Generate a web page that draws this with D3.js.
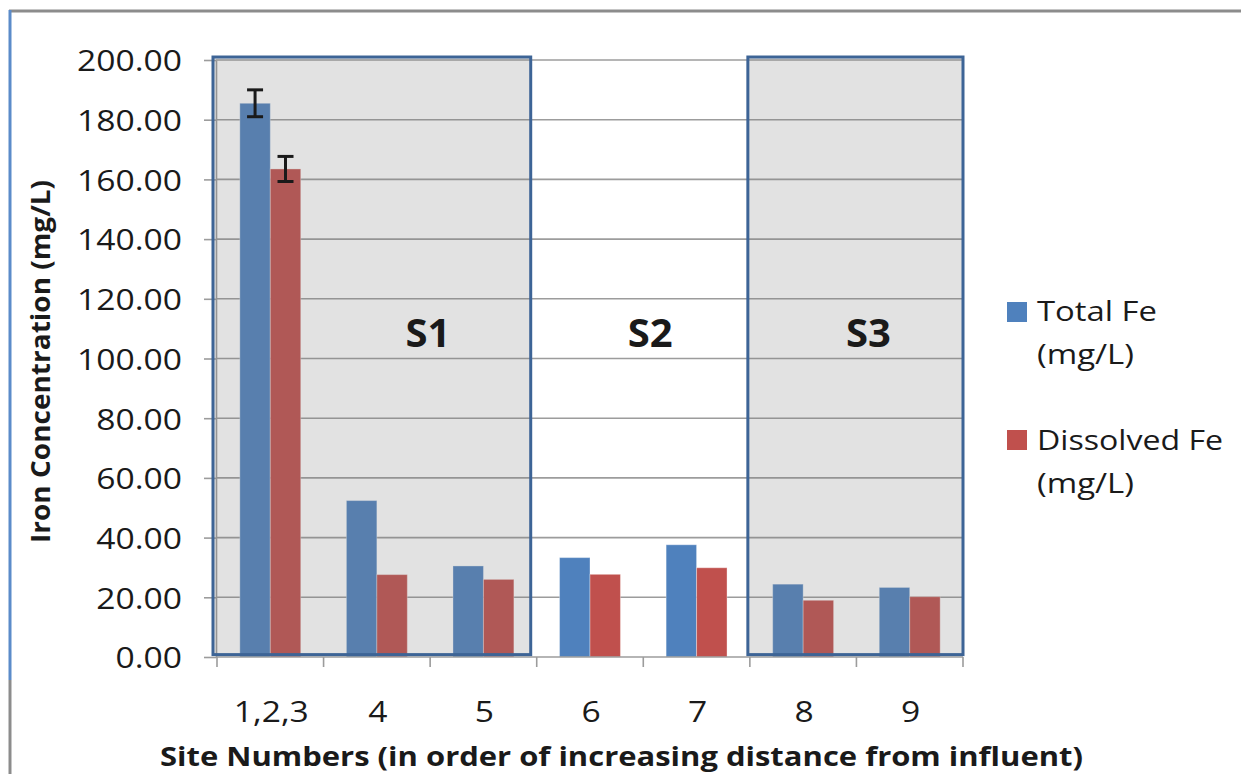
<!DOCTYPE html>
<html>
<head>
<meta charset="utf-8">
<script src="https://cdn.jsdelivr.net/npm/d3@7"></script>
<style>
  html, body { margin: 0; padding: 0; background: #fff; }
  svg { display: block; }
  text { font-family: "Open Sans", "Liberation Sans", sans-serif; fill: #1a1a1a; }
</style>
</head>
<body>
<svg id="chart" width="1241" height="774"></svg>
<script>
// ---------------- data ----------------
const categories = ["1,2,3", "4", "5", "6", "7", "8", "9"];
const seriesNames = ["Total Fe (mg/L)", "Dissolved Fe (mg/L)"];
const totalFe = [185.5, 52.4, 30.5, 33.3, 37.6, 24.4, 23.3];
const dissolvedFe = [163.5, 27.6, 26.0, 27.7, 29.9, 19.0, 20.2];
const totalFeErr = [4.5, null, null, null, null, null, null];
const dissolvedFeErr = [4.2, null, null, null, null, null, null];
const yTicks = [0, 20, 40, 60, 80, 100, 120, 140, 160, 180, 200];
const sectionLabels = ["S1", "S2", "S3"];
const sectionFirst = ["1,2,3", "6", "8"];
const sectionLast = ["5", "7", "9"];
const sectionShaded = [true, false, true];
const xTitle = "Site Numbers (in order of increasing distance from influent)";
const yTitle = "Iron Concentration (mg/L)";
const colors = ["#4f81bd", "#c0504d"];

// ---------------- layout ----------------
const svg = d3.select("#chart");
const plotL = 217, plotR = 963, plotT = 60, plotB = 657;

const x = d3.scaleBand().domain(categories).range([plotL, plotR]).paddingInner(0).paddingOuter(0);
const x1 = d3.scaleBand().domain(seriesNames).range([0, x.bandwidth()]).paddingInner(0).paddingOuter(0.75);
const y = d3.scaleLinear().domain([0, 200]).range([plotB, plotT]);

// outer frame (screenshot border)
svg.append("line").attr("x1", 9).attr("x2", 1241).attr("y1", 11).attr("y2", 11)
  .attr("stroke", "#8c8c8c").attr("stroke-width", 3);
svg.append("line").attr("x1", 10).attr("x2", 10).attr("y1", 10).attr("y2", 680)
  .attr("stroke", "#5b8bc9").attr("stroke-width", 3);
svg.append("line").attr("x1", 10).attr("x2", 10).attr("y1", 680).attr("y2", 774)
  .attr("stroke", "#8c8c8c").attr("stroke-width", 3);

// gridlines
svg.append("g").selectAll("line").data(yTicks.filter(d => d > 0)).join("line")
  .attr("x1", plotL - 1).attr("x2", plotR)
  .attr("y1", d => y(d)).attr("y2", d => y(d))
  .attr("stroke", "#9c9c9c").attr("stroke-width", 1.6);

// y axis
const yAxis = svg.append("g").attr("transform", `translate(${plotL - 1},0)`)
  .call(d3.axisLeft(y).tickValues(yTicks).tickFormat(d => d.toFixed(2)).tickSize(12).tickSizeOuter(0).tickPadding(22));
yAxis.select(".domain").attr("stroke", "#9c9c9c").attr("stroke-width", 1.6);
yAxis.selectAll(".tick line").attr("stroke", "#9c9c9c").attr("stroke-width", 1.6);
yAxis.selectAll(".tick text")
  .attr("dy", null).attr("y", 10.8)
  .style("font-family", '"Open Sans", sans-serif').style("font-size", "30px").attr("fill", "#1a1a1a");

// bars
const rows = categories.map((c, i) => ({ c, vals: [totalFe[i], dissolvedFe[i]], errs: [totalFeErr[i], dissolvedFeErr[i]] }));
const groups = svg.append("g").selectAll("g").data(rows).join("g")
  .attr("transform", d => `translate(${x(d.c)},0)`);
groups.selectAll("rect").data(d => d.vals.map((v, k) => ({ v, k }))).join("rect")
  .attr("x", d => x1(seriesNames[d.k]))
  .attr("width", x1.bandwidth())
  .attr("y", d => y(d.v))
  .attr("height", d => y(0) - y(d.v))
  .attr("fill", d => colors[d.k])
  .attr("stroke", "rgba(255,255,255,0.35)").attr("stroke-width", 1);

// x axis line and ticks at category boundaries
svg.append("line").attr("x1", plotL - 1).attr("x2", plotR).attr("y1", plotB).attr("y2", plotB)
  .attr("stroke", "#9c9c9c").attr("stroke-width", 1.6);
const bounds = categories.map(c => x(c)).concat([x(categories[categories.length - 1]) + x.bandwidth()]);
svg.append("g").selectAll("line").data(bounds).join("line")
  .attr("x1", d => d).attr("x2", d => d).attr("y1", plotB).attr("y2", plotB + 10)
  .attr("stroke", "#9c9c9c").attr("stroke-width", 1.6);

// shaded section boxes (semi-transparent over the bars)
const sections = sectionLabels.map((s, i) => ({
  label: s, x0: x(sectionFirst[i]), x1: x(sectionLast[i]) + x.bandwidth(), shaded: sectionShaded[i]
}));
svg.append("g").selectAll("rect").data(sections.filter(d => d.shaded)).join("rect")
  .attr("x", (d, i) => d.x0 + (i === 0 ? -4 : -2))
  .attr("width", (d, i) => (d.x1 - d.x0) + (i === 0 ? -2 : 2))
  .attr("y", y(201)).attr("height", y(0.8) - y(201))
  .attr("fill", "rgb(120,120,120)").attr("fill-opacity", 0.215)
  .attr("stroke", "#3d6496").attr("stroke-width", 3);

// section labels
svg.append("g").selectAll("text").data(sections).join("text")
  .attr("x", (d, i) => (d.x0 + d.x1) / 2 + [51, 7, 12][i])
  .attr("y", 347)
  .attr("text-anchor", "middle")
  .style("font-size", "40px").style("font-weight", "bold")
  .text(d => d.label);

// error bars
const errs = [];
rows.forEach(r => r.vals.forEach((v, k) => { if (r.errs[k] != null) errs.push({ c: r.c, k, v, e: r.errs[k] }); }));
const eg = svg.append("g").attr("stroke", "#1a1a1a").attr("stroke-width", 3);
errs.forEach(d => {
  const cx = x(d.c) + x1(seriesNames[d.k]) + x1.bandwidth() / 2;
  eg.append("line").attr("x1", cx).attr("x2", cx).attr("y1", y(d.v + d.e)).attr("y2", y(d.v - d.e));
  eg.append("line").attr("x1", cx - 8).attr("x2", cx + 8).attr("y1", y(d.v + d.e)).attr("y2", y(d.v + d.e));
  eg.append("line").attr("x1", cx - 8).attr("x2", cx + 8).attr("y1", y(d.v - d.e)).attr("y2", y(d.v - d.e));
});

// x tick labels
svg.append("g").attr("class", "xlabels").selectAll("text").data(categories).join("text")
  .attr("x", d => x(d) + x.bandwidth() / 2 + 1)
  .attr("y", 722)
  .attr("text-anchor", "middle")
  .style("font-size", "30px")
  .text(d => d);

// axis titles
svg.append("text").attr("x", 621.5).attr("y", 766).attr("text-anchor", "middle")
  .style("font-size", "27.5px").style("font-weight", "bold")
  .attr("textLength", 923).attr("lengthAdjust", "spacingAndGlyphs")
  .text(xTitle);
svg.append("text").attr("transform", "translate(50,361.5) rotate(-90)").attr("text-anchor", "middle")
  .style("font-size", "27.5px").style("font-weight", "bold")
  .attr("textLength", 363).attr("lengthAdjust", "spacingAndGlyphs")
  .text(yTitle);

// legend
const legendRows = [
  { color: colors[0], lines: ["Total Fe", "(mg/L)"], sqY: 302, base: 321, widths: [120, 97] },
  { color: colors[1], lines: ["Dissolved Fe", "(mg/L)"], sqY: 430, base: 450, widths: [186, 97] }
];
const lg = svg.append("g");
legendRows.forEach(r => {
  lg.append("rect").attr("x", 1007).attr("y", r.sqY).attr("width", 20).attr("height", 20).attr("fill", r.color);
  r.lines.forEach((t, j) => {
    lg.append("text").attr("x", 1037).attr("y", r.base + j * 43)
      .style("font-size", "28px")
      .attr("textLength", r.widths[j]).attr("lengthAdjust", "spacingAndGlyphs")
      .text(t);
  });
});

// stretch tick labels horizontally to match the reference proportions
svg.selectAll(".tick text, .xlabels text").each(function () {
  const w = this.getComputedTextLength();
  d3.select(this).attr("textLength", w * 1.12).attr("lengthAdjust", "spacingAndGlyphs");
});
</script>
</body>
</html>
